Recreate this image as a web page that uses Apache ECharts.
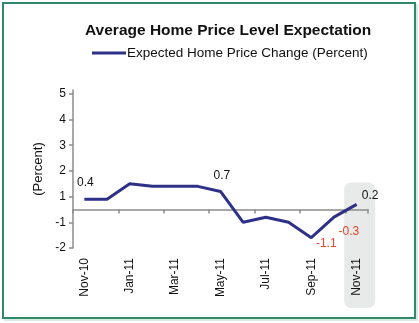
<!DOCTYPE html>
<html>
<head>
<meta charset="utf-8">
<script src="https://cdn.jsdelivr.net/npm/echarts@6/dist/echarts.min.js"></script>
<style>
  html, body { margin: 0; padding: 0; background: #ffffff; }
  #frame {
    position: absolute; left: 2px; top: 2px; width: 410px; height: 313px;
    border: 2px solid #2f8a69; background: #ffffff;
    box-shadow: 2px 2px 0 #d8ece3;
  }
  #chart { position: absolute; left: 0; top: 0; width: 419px; height: 323px; }
</style>
</head>
<body>
<div id="frame"></div>
<div id="chart"></div>
<script>
// Monthly survey readings, Nov-10 through Nov-11
const months = ['Nov-10', 'Dec-10', 'Jan-11', 'Feb-11', 'Mar-11', 'Apr-11', 'May-11',
                'Jun-11', 'Jul-11', 'Aug-11', 'Sep-11', 'Oct-11', 'Nov-11'];
const expectedChange = [0.4, 0.4, 1.0, 0.9, 0.9, 0.9, 0.7, -0.5, -0.3, -0.5, -1.1, -0.3, 0.2];

// Y ticks sit on the half steps; their labels are the rounded values
const yTickValues = [-1.5, -0.5, 0.5, 1.5, 2.5, 3.5, 4.5];
const yTickLabels = ['-2', '-1', '1', '2', '3', '4', '5'];

const seriesName = 'Expected Home Price Change (Percent)';
const titleText = 'Average Home Price Level Expectation';
const highlightMonth = 'Nov-11';

const FONT = '"Liberation Sans", Arial, sans-serif';
const LINE_COLOR = '#2e3187';

// Which points carry a value label: label centre relative to the point
const labelPlacement = {
  0:  { dx: 1,    dy: -16,  color: '#111' },
  6:  { dx: 1.5,  dy: -16,  color: '#111' },
  10: { dx: 15,   dy: 6,    color: '#e8452c' },
  11: { dx: 15,   dy: 14.5, color: '#e8452c' },
  12: { dx: 13.5, dy: -8.5, color: '#111' }
};

const seriesData = expectedChange.map((v, i) => {
  const p = labelPlacement[i];
  if (!p) return v;
  return {
    value: v,
    label: {
      show: true, position: [p.dx, p.dy], align: 'center', verticalAlign: 'middle',
      color: p.color, fontSize: 12, fontFamily: FONT,
      formatter: (d) => d.value.toFixed(1)
    }
  };
});

const chart = echarts.init(document.getElementById('chart'), null, { renderer: 'canvas' });

chart.setOption({
  backgroundColor: 'transparent',
  animation: false,
  title: {
    text: titleText,
    left: 80, top: 18,
    textStyle: { fontFamily: FONT, fontSize: 15.5, fontWeight: 'bold', color: '#111' }
  },
  legend: {
    data: [seriesName],
    left: 87, top: 41,
    icon: 'rect', itemWidth: 34, itemHeight: 3,
    textStyle: { fontFamily: FONT, fontSize: 13.5, color: '#111', padding: [0, 0, 0, -4] }
  },
  grid: { left: 73, right: 51, top: 90, bottom: 75, containLabel: false, outerBoundsMode: 'none' },
  xAxis: {
    type: 'category',
    data: months,
    boundaryGap: true,
    axisLine: { show: true, onZero: true, lineStyle: { color: '#8c8c8c', width: 1.5 } },
    axisTick: { show: true, interval: 1, length: 4, lineStyle: { color: '#8c8c8c', width: 1.5 } },
    axisLabel: {
      interval: 1, rotate: 90, margin: 10,
      fontFamily: FONT, fontSize: 12, color: '#111'
    },
    splitLine: { show: false }
  },
  yAxis: {
    type: 'value',
    min: -1.5, max: 4.65,
    name: '(Percent)',
    nameLocation: 'middle', nameGap: 19, nameRotate: 90,
    nameTextStyle: { fontFamily: FONT, fontSize: 13, color: '#111' },
    axisLine: { show: true, lineStyle: { color: '#8c8c8c', width: 1.5 } },
    axisTick: { show: true, length: 4, customValues: yTickValues, lineStyle: { color: '#8c8c8c', width: 1.5 } },
    axisLabel: {
      customValues: yTickValues, margin: 7,
      fontFamily: FONT, fontSize: 12, color: '#111',
      formatter: (v) => {
        const i = yTickValues.findIndex(t => Math.abs(t - v) < 1e-6);
        return i >= 0 ? yTickLabels[i] : '';
      }
    },
    splitLine: { show: false }
  },
  series: [{
    name: seriesName,
    type: 'line',
    data: seriesData,
    z: 5,
    symbol: 'circle',
    symbolSize: 0.1,
    showSymbol: true,
    lineStyle: { color: LINE_COLOR, width: 3 },
    itemStyle: { color: LINE_COLOR },
    labelLayout: { hideOverlap: false }
  }]
});

// Rounded shaded panel behind the latest month
function drawHighlight() {
  const cx = chart.convertToPixel({ xAxisIndex: 0 }, highlightMonth);
  const yTop = chart.convertToPixel({ yAxisIndex: 0 }, 1.05);
  const yBottom = chart.getHeight() - 15;
  const halfW = 15.5;
  chart.setOption({
    graphic: [{
      type: 'rect', z: -10, silent: true,
      shape: { x: cx + 3 - halfW, y: yTop, width: halfW * 2, height: yBottom - yTop, r: 7 },
      style: { fill: '#e8e9e9' }
    }]
  });
}
drawHighlight();
</script>
</body>
</html>
